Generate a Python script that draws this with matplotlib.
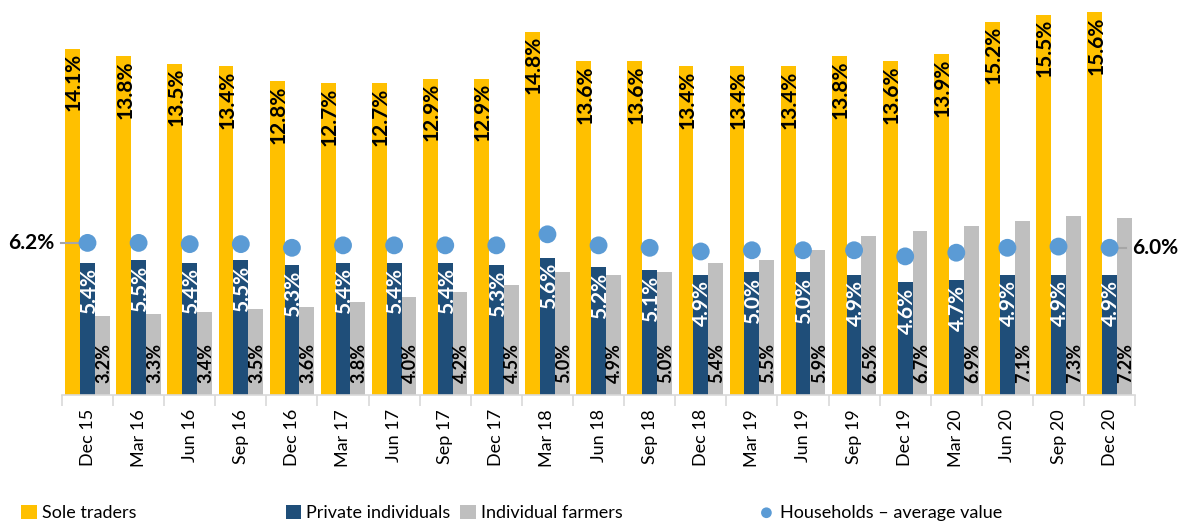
import matplotlib.pyplot as plt
import numpy as np

plt.rcParams['font.family'] = ['Lato', 'DejaVu Sans']

quarters = ['Dec 15', 'Mar 16', 'Jun 16', 'Sep 16', 'Dec 16', 'Mar 17', 'Jun 17',
            'Sep 17', 'Dec 17', 'Mar 18', 'Jun 18', 'Sep 18', 'Dec 18', 'Mar 19',
            'Jun 19', 'Sep 19', 'Dec 19', 'Mar 20', 'Jun 20', 'Sep 20', 'Dec 20']
sole_traders = [14.1, 13.8, 13.5, 13.4, 12.8, 12.7, 12.7, 12.9, 12.9, 14.8, 13.6,
                13.6, 13.4, 13.4, 13.4, 13.8, 13.6, 13.9, 15.2, 15.5, 15.6]
private = [5.4, 5.5, 5.4, 5.5, 5.3, 5.4, 5.4, 5.4, 5.3, 5.6, 5.2,
           5.1, 4.9, 5.0, 5.0, 4.9, 4.6, 4.7, 4.9, 4.9, 4.9]
farmers = [3.2, 3.3, 3.4, 3.5, 3.6, 3.8, 4.0, 4.2, 4.5, 5.0, 4.9,
           5.0, 5.4, 5.5, 5.9, 6.5, 6.7, 6.9, 7.1, 7.3, 7.2]
households = [6.2, 6.2, 6.15, 6.15, 6.0, 6.1, 6.1, 6.1, 6.1, 6.55, 6.1,
              6.0, 5.85, 5.9, 5.9, 5.9, 5.65, 5.8, 6.0, 6.05, 6.0]

c_sole = '#ffc000'
c_priv = '#1f4e79'
c_farm = '#bfbfbf'
c_hh = '#5b9bd5'

fig = plt.figure(figsize=(11.8, 5.25), dpi=100)
ax = fig.add_axes([0.0525, 0.2476, 0.9095, 0.7524])

N = np.arange(len(quarters))
w = 0.29
b1 = ax.bar(N - w, sole_traders, w, color=c_sole, edgecolor='none')
b2 = ax.bar(N, private, w, color=c_priv, edgecolor='none')
b3 = ax.bar(N + w, farmers, w, color=c_farm, edgecolor='none')
dots = ax.scatter(N, households, s=165, color=c_hh, zorder=3, edgecolors='none')

for i in N:
    ax.annotate(f'{sole_traders[i]:.1f}%', (i - w, sole_traders[i]), xytext=(1, -3),
                textcoords='offset points', rotation=90, ha='center', va='top',
                fontsize=15, fontweight='bold', color='black')
    ax.annotate(f'{private[i]:.1f}%', (i, private[i]), xytext=(1, -4),
                textcoords='offset points', rotation=90, ha='center', va='top',
                fontsize=15, fontweight='bold', color='white')
    ax.annotate(f'{farmers[i]:.1f}%', (i + w, 0), xytext=(1, 9),
                textcoords='offset points', rotation=90, ha='center', va='bottom',
                fontsize=13, fontweight='bold', color='black')

# call-outs for first and last household values
ax.plot([-0.52, 0], [households[0], households[0]], color='#a6a6a6', lw=1.5,
        zorder=2, clip_on=False)
ax.text(-0.65, households[0], f'{households[0]:.1f}%', ha='right', va='center',
        fontsize=15, fontweight='bold')
ax.plot([20, 20.32], [households[-1], households[-1]], color='#a6a6a6', lw=1.5,
        zorder=2, clip_on=False)
ax.text(20.45, households[-1], f'{households[-1]:.1f}%', ha='left', va='center',
        fontsize=15, fontweight='bold')

ax.set_xlim(-0.5, 20.5)
ax.set_ylim(0, 16.1)
ax.set_yticks([])
ax.set_xticks(N)
ax.set_xticklabels(quarters, rotation=90, fontsize=13)
ax.set_xticks(np.arange(-0.5, 21, 1), minor=True)
ax.tick_params(axis='x', which='major', length=0, pad=10)
ax.tick_params(axis='x', which='minor', length=8, color='#d9d9d9', width=1.2)
for s in ['top', 'right', 'left']:
    ax.spines[s].set_visible(False)
ax.spines['bottom'].set_color('#d9d9d9')
ax.spines['bottom'].set_linewidth(1.2)

items = [(b1, 'Sole traders', 0.018),
         (b2, 'Private individuals', 0.242),
         (b3, 'Individual farmers', 0.39),
         (dots, 'Households – average value', 0.643)]
for h, lab, xpos in items:
    fig.legend([h], [lab], loc='center left', bbox_to_anchor=(xpos, 0.023),
               frameon=False, fontsize=13, handlelength=0.85, handleheight=0.85,
               handletextpad=0.3, borderpad=0, borderaxespad=0, markerscale=0.6)

plt.savefig('out.png')
